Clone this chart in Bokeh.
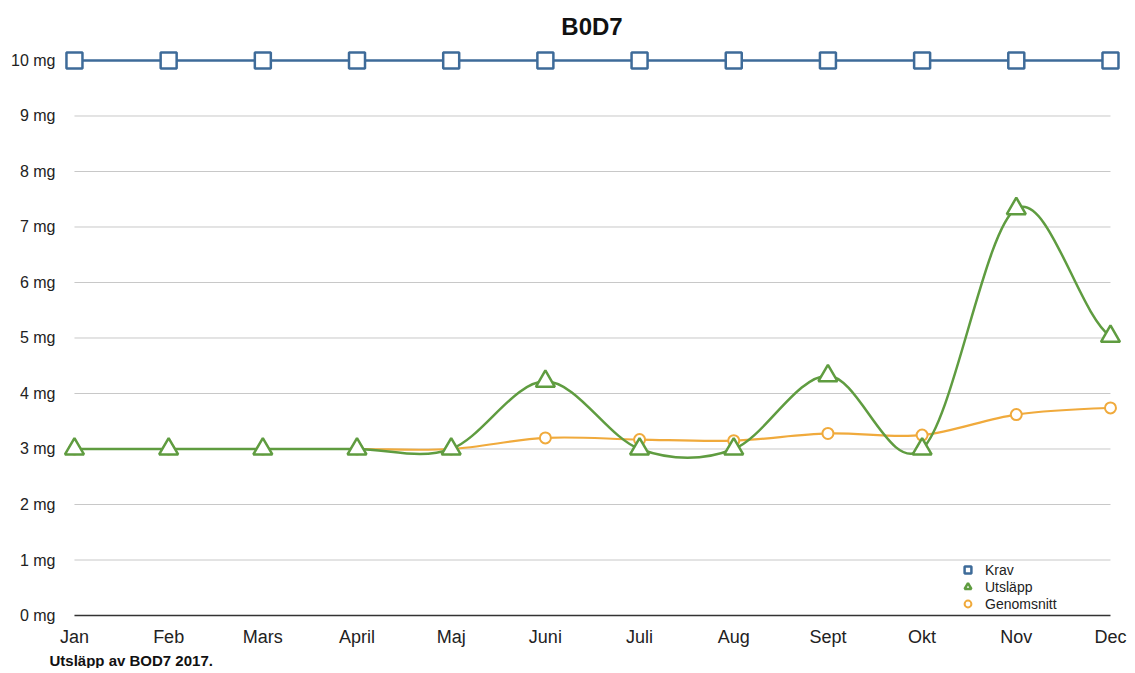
from bokeh.plotting import figure
from bokeh.models import (FixedTicker, PrintfTickFormatter, Range1d, Legend, LegendItem,
                          Title, ColumnDataSource)
from bokeh.embed import file_html
from bokeh.resources import INLINE

months = ["Jan", "Feb", "Mars", "April", "Maj", "Juni", "Juli", "Aug", "Sept", "Okt", "Nov", "Dec"]
krav = [10, 10, 10, 10, 10, 10, 10, 10, 10, 10, 10, 10]
utslapp = [3, 3, 3, 3, 3, 4.22, 3, 3, 4.32, 3, 7.33, 5.03]
genomsnitt = [3, 3, 3, 3, 3, 3.20, 3.17, 3.15, 3.28, 3.25, 3.62, 3.74]
y_ticks = [0, 1, 2, 3, 4, 5, 6, 7, 8, 9, 10]

BLUE = "#3e6b99"
GREEN = "#5f9c40"
ORANGE = "#f0aa3c"
FONT = "Liberation Sans"

xs = list(range(len(months)))


def smooth(ys):
    n = len(ys)
    tang = []
    for i in range(n):
        if i == 0:
            tang.append((ys[1] - ys[0]) / 2)
        elif i == n - 1:
            tang.append((ys[-1] - ys[-2]) / 2)
        else:
            tang.append((ys[i + 1] - ys[i - 1]) / 2)
    d = dict(x0=[], y0=[], x1=[], y1=[], cx0=[], cy0=[], cx1=[], cy1=[])
    for i in range(n - 1):
        d["x0"].append(xs[i]); d["y0"].append(ys[i])
        d["x1"].append(xs[i + 1]); d["y1"].append(ys[i + 1])
        d["cx0"].append(xs[i] + 1 / 3); d["cy0"].append(ys[i] + tang[i] / 3)
        d["cx1"].append(xs[i + 1] - 1 / 3); d["cy1"].append(ys[i + 1] - tang[i + 1] / 3)
    return ColumnDataSource(d)


p = figure(frame_width=1059, frame_height=570, output_backend="svg", toolbar_location=None,
           x_range=Range1d(-0.127, 11.117), y_range=Range1d(-0.054, 10.216),
           min_border_left=62, min_border_right=6, min_border_top=48, min_border_bottom=50)
p.outline_line_color = None
p.background_fill_color = "white"
p.xgrid.visible = False
p.ygrid.visible = False

# grid lines
p.segment(x0=[xs[0]] * (len(y_ticks) - 1), x1=[xs[-1]] * (len(y_ticks) - 1),
          y0=y_ticks[1:], y1=y_ticks[1:], line_color="#c8c8c8", line_width=1)
p.segment(x0=[xs[0]], x1=[xs[-1]], y0=[y_ticks[0]], y1=[y_ticks[0]],
          line_color="#333333", line_width=1.5)

# axes
p.yaxis.ticker = FixedTicker(ticks=y_ticks)
p.yaxis.formatter = PrintfTickFormatter(format="%d mg")
p.yaxis.axis_line_color = None
p.yaxis.major_tick_line_color = None
p.yaxis.minor_tick_line_color = None
p.yaxis.major_label_text_font = FONT
p.yaxis.major_label_text_font_size = "16px"
p.yaxis.major_label_text_color = "#222222"
p.yaxis.major_label_standoff = 1

p.xaxis.ticker = FixedTicker(ticks=xs)
p.xaxis.major_label_overrides = {i: m for i, m in enumerate(months)}
p.xaxis.axis_line_color = None
p.xaxis.major_tick_line_color = None
p.xaxis.minor_tick_line_color = None
p.xaxis.major_label_text_font = FONT
p.xaxis.major_label_text_font_size = "18px"
p.xaxis.major_label_text_color = "#222222"
p.xaxis.major_label_standoff = 2

# series
p.line(xs, krav, line_color=BLUE, line_width=2.5)
p.bezier(x0="x0", y0="y0", x1="x1", y1="y1", cx0="cx0", cy0="cy0", cx1="cx1", cy1="cy1",
         source=smooth(genomsnitt), line_color=ORANGE, line_width=2.2)
p.bezier(x0="x0", y0="y0", x1="x1", y1="y1", cx0="cx0", cy0="cy0", cx1="cx1", cy1="cy1",
         source=smooth(utslapp), line_color=GREEN, line_width=2.5)

r_krav = p.scatter(xs, krav, marker="square", size=16, fill_color="white",
                   line_color=BLUE, line_width=2.5)
r_gen = p.scatter(xs, genomsnitt, marker="circle", size=11, fill_color="white",
                  line_color=ORANGE, line_width=2)
r_uts = p.scatter(xs, utslapp, marker="triangle", size=19, fill_color="white",
                  line_color=GREEN, line_width=2.5)

legend = Legend(items=[LegendItem(label="Krav", renderers=[r_krav]),
                       LegendItem(label="Utsläpp", renderers=[r_uts]),
                       LegendItem(label="Genomsnitt", renderers=[r_gen])],
                location=(897, 6), border_line_color=None, background_fill_alpha=0,
                label_text_font=FONT, label_text_font_size="14px", label_text_color="#222222",
                glyph_width=17, glyph_height=17, label_standoff=9, spacing=0, padding=2,
                label_height=15)
p.add_layout(legend)

p.title = Title(text="B0D7", align="center", text_font=FONT, text_font_size="24px",
                text_font_style="bold", text_color="#111111", standoff=18)
p.add_layout(Title(text="Utsläpp av BOD7 2017.", align="left", text_font=FONT,
                   text_font_size="15px", text_font_style="bold", text_color="#111111",
                   offset=-13, standoff=0), "below")

open("out.html", "w").write(file_html(p, INLINE))
